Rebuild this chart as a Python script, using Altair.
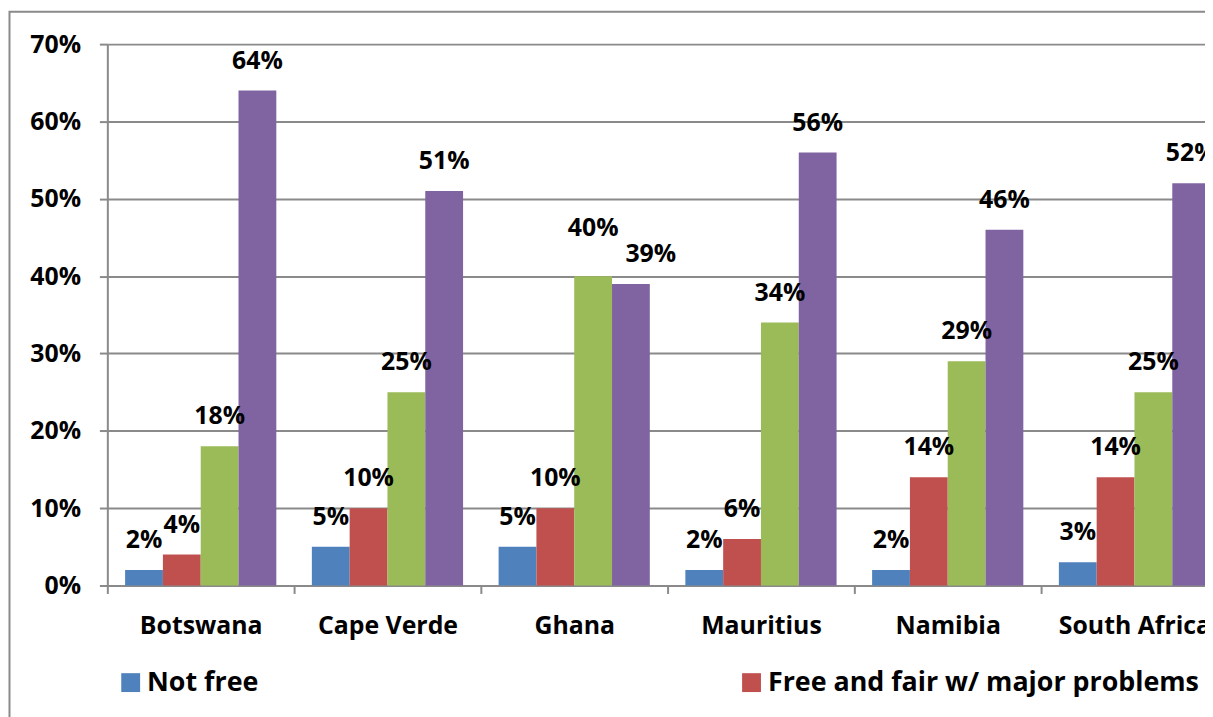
import altair as alt
import pandas as pd

countries = ["Botswana", "Cape Verde", "Ghana", "Mauritius", "Namibia", "South Africa"]
series = [
    "Not free",
    "Free and fair w/ major problems",
    "Free and fair w/ minor problems",
    "Completely free and fair",
]
not_free = [0.02, 0.05, 0.05, 0.02, 0.02, 0.03]
major_problems = [0.04, 0.10, 0.10, 0.06, 0.14, 0.14]
minor_problems = [0.18, 0.25, 0.40, 0.34, 0.29, 0.25]
completely_free = [0.64, 0.51, 0.39, 0.56, 0.46, 0.52]
colors = ["#4F81BD", "#C0504D", "#9BBB59", "#8064A2"]
y_ticks = [0.0, 0.1, 0.2, 0.3, 0.4, 0.5, 0.6, 0.7]

rows = []
for s, vals in zip(series, [not_free, major_problems, minor_problems, completely_free]):
    for c, v in zip(countries, vals):
        rows.append({"country": c, "series": s, "value": v})
df = pd.DataFrame(rows)

FONT = "Open Sans"
GRAY = "#8a8a8a"

x_enc = alt.X(
    "country:N",
    sort=countries,
    scale=alt.Scale(range=[0, 1128], paddingInner=0, paddingOuter=0),
    axis=alt.Axis(
        title=None,
        labelAngle=0,
        labelFont=FONT,
        labelFontWeight="bold",
        labelFontSize=25,
        labelColor="black",
        labelPadding=20,
        tickBand="extent",
        tickSize=8,
        tickColor=GRAY,
        tickWidth=2,
        domainColor=GRAY,
        domainWidth=2,
        grid=False,
    ),
)
xo_enc = alt.XOffset(
    "series:N", sort=series, scale=alt.Scale(paddingInner=0, paddingOuter=0.47)
)
y_enc = alt.Y(
    "value:Q",
    scale=alt.Scale(domain=[0, 0.7], nice=False),
    axis=alt.Axis(
        title=None,
        values=y_ticks,
        format=".0%",
        labelFont=FONT,
        labelFontWeight="bold",
        labelFontSize=25,
        labelColor="black",
        labelPadding=19,
        tickSize=8,
        tickColor=GRAY,
        tickWidth=2,
        domainColor=GRAY,
        domainWidth=2,
        gridColor=GRAY,
        gridWidth=2,
    ),
)

base = alt.Chart(df).encode(x=x_enc, xOffset=xo_enc, y=y_enc)

bars = base.mark_bar().encode(
    color=alt.Color(
        "series:N",
        sort=series,
        scale=alt.Scale(domain=series, range=colors),
        legend=alt.Legend(
            title=None,
            orient="none",
            legendX=10,
            legendY=629,
            direction="horizontal",
            columns=2,
            gridAlign="all",
            columnPadding=159,
            symbolType="square",
            symbolSize=361,
            symbolStrokeWidth=0,
            symbolOpacity=1,
            labelFont=FONT,
            labelFontWeight="bold",
            labelFontSize=27,
            labelColor="black",
            labelOffset=3,
            labelLimit=1000,
            padding=0,
            rowPadding=100,
        ),
    )
)

label_style = dict(
    font=FONT,
    fontWeight="bold",
    fontSize=25,
    color="black",
    baseline="alphabetic",
)
is_ghana = alt.datum.country == "Ghana"
is_right = is_ghana & (alt.datum.series == "Completely free and fair")
is_up = is_ghana & (alt.datum.series == "Free and fair w/ minor problems")

labels = (
    base.mark_text(dy=-22, **label_style)
    .encode(text=alt.Text("value:Q", format=".0%"))
    .transform_filter(~(is_right | is_up))
)
labels_right = (
    base.mark_text(dx=20, dy=-22, **label_style)
    .encode(text=alt.Text("value:Q", format=".0%"))
    .transform_filter(is_right)
)
labels_up = (
    base.mark_text(dy=-40, **label_style)
    .encode(text=alt.Text("value:Q", format=".0%"))
    .transform_filter(is_up)
)

border = (
    alt.Chart(pd.DataFrame({"a": [0]}))
    .mark_rect(filled=False, stroke=GRAY, strokeWidth=2)
    .encode(
        x=alt.value(-98.5),
        x2=alt.value(1300),
        y=alt.value(-32.5),
        y2=alt.value(900),
    )
)

chart = (
    alt.layer(border, bars, labels, labels_right, labels_up)
    .properties(
        width=1105,
        height=545,
        autosize=alt.AutoSizeParams(type="none"),
        padding={"left": 100, "top": 34, "right": 0, "bottom": 130},
        background="white",
    )
    .configure_view(stroke=None)
)

chart.save("out.html", embed_options={"renderer": "svg", "actions": False})
